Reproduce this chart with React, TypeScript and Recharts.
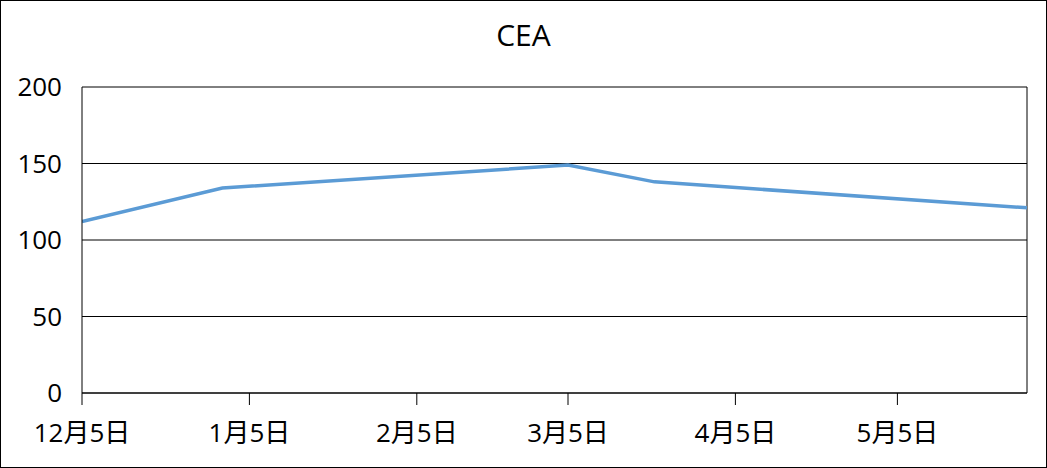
import React from 'react';
import { LineChart, Line, XAxis, YAxis, CartesianGrid, ReferenceLine } from 'recharts';

const title = 'CEA';
const pointDates = ['2012-12-05', '2012-12-31', '2013-03-05', '2013-03-21', '2013-05-29'];
const ceaValues = [112, 134, 149, 138, 121];
const tickDates = ['2012-12-05', '2013-01-05', '2013-02-05', '2013-03-05', '2013-04-05', '2013-05-05'];
const tickLabels = ['12月5日', '1月5日', '2月5日', '3月5日', '4月5日', '5月5日'];
const yTicks = [0, 50, 100, 150, 200];

const DAY = 86400000;
const start = Date.parse(pointDates[0] + 'T00:00:00Z');
const toDay = (d: string) => Math.round((Date.parse(d + 'T00:00:00Z') - start) / DAY);

const data = pointDates.map((d, i) => ({ day: toDay(d), value: ceaValues[i] }));
const xTicks = tickDates.map(toDay);
const xMax = toDay(pointDates[pointDates.length - 1]);
const labelFor = (v: number) => {
  const idx = xTicks.indexOf(v);
  return idx >= 0 ? tickLabels[idx] : '';
};

const FONT = '"Open Sans", "Noto Sans CJK SC", sans-serif';

export default function App() {
  return (
    <div style={{ position: 'absolute', left: 0, top: 0, width: 1047, height: 468, background: '#fff' }}>
      <LineChart width={1047} height={468} data={data} margin={{ top: 87, right: 20, bottom: 0, left: 22 }}>
        <CartesianGrid vertical={false} stroke="#000" strokeWidth={1} />
        <XAxis
          dataKey="day"
          type="number"
          domain={[0, xMax]}
          ticks={xTicks}
          tickFormatter={labelFor}
          height={75}
          axisLine={{ stroke: '#000' }}
          tickLine={{ stroke: '#000' }}
          tickSize={12}
          tickMargin={19}
          interval={0}
          allowDataOverflow
          tick={{ fill: '#000', fontSize: 26, fontFamily: FONT }}
        />
        <YAxis
          type="number"
          domain={[0, 200]}
          ticks={yTicks}
          width={60}
          axisLine={{ stroke: '#000' }}
          tickLine={false}
          tickSize={0}
          tickMargin={20}
          interval={0}
          tick={{ fill: '#000', fontSize: 26, fontFamily: FONT }}
        />
        <ReferenceLine x={xMax} stroke="#000" strokeWidth={1} />
        <Line
          type="linear"
          dataKey="value"
          stroke="#5B9BD5"
          strokeWidth={3.5}
          dot={false}
          activeDot={false}
          isAnimationActive={false}
        />
      </LineChart>
      <div
        style={{
          position: 'absolute',
          left: 0,
          top: 20,
          width: 1047,
          textAlign: 'center',
          fontFamily: FONT,
          fontSize: 30,
          lineHeight: '30px',
          color: '#000',
        }}
      >
        {title}
      </div>
      <div
        style={{
          position: 'absolute',
          left: 0,
          top: 0,
          width: 1047,
          height: 468,
          boxSizing: 'border-box',
          border: '1px solid #000',
          pointerEvents: 'none',
        }}
      />
    </div>
  );
}
